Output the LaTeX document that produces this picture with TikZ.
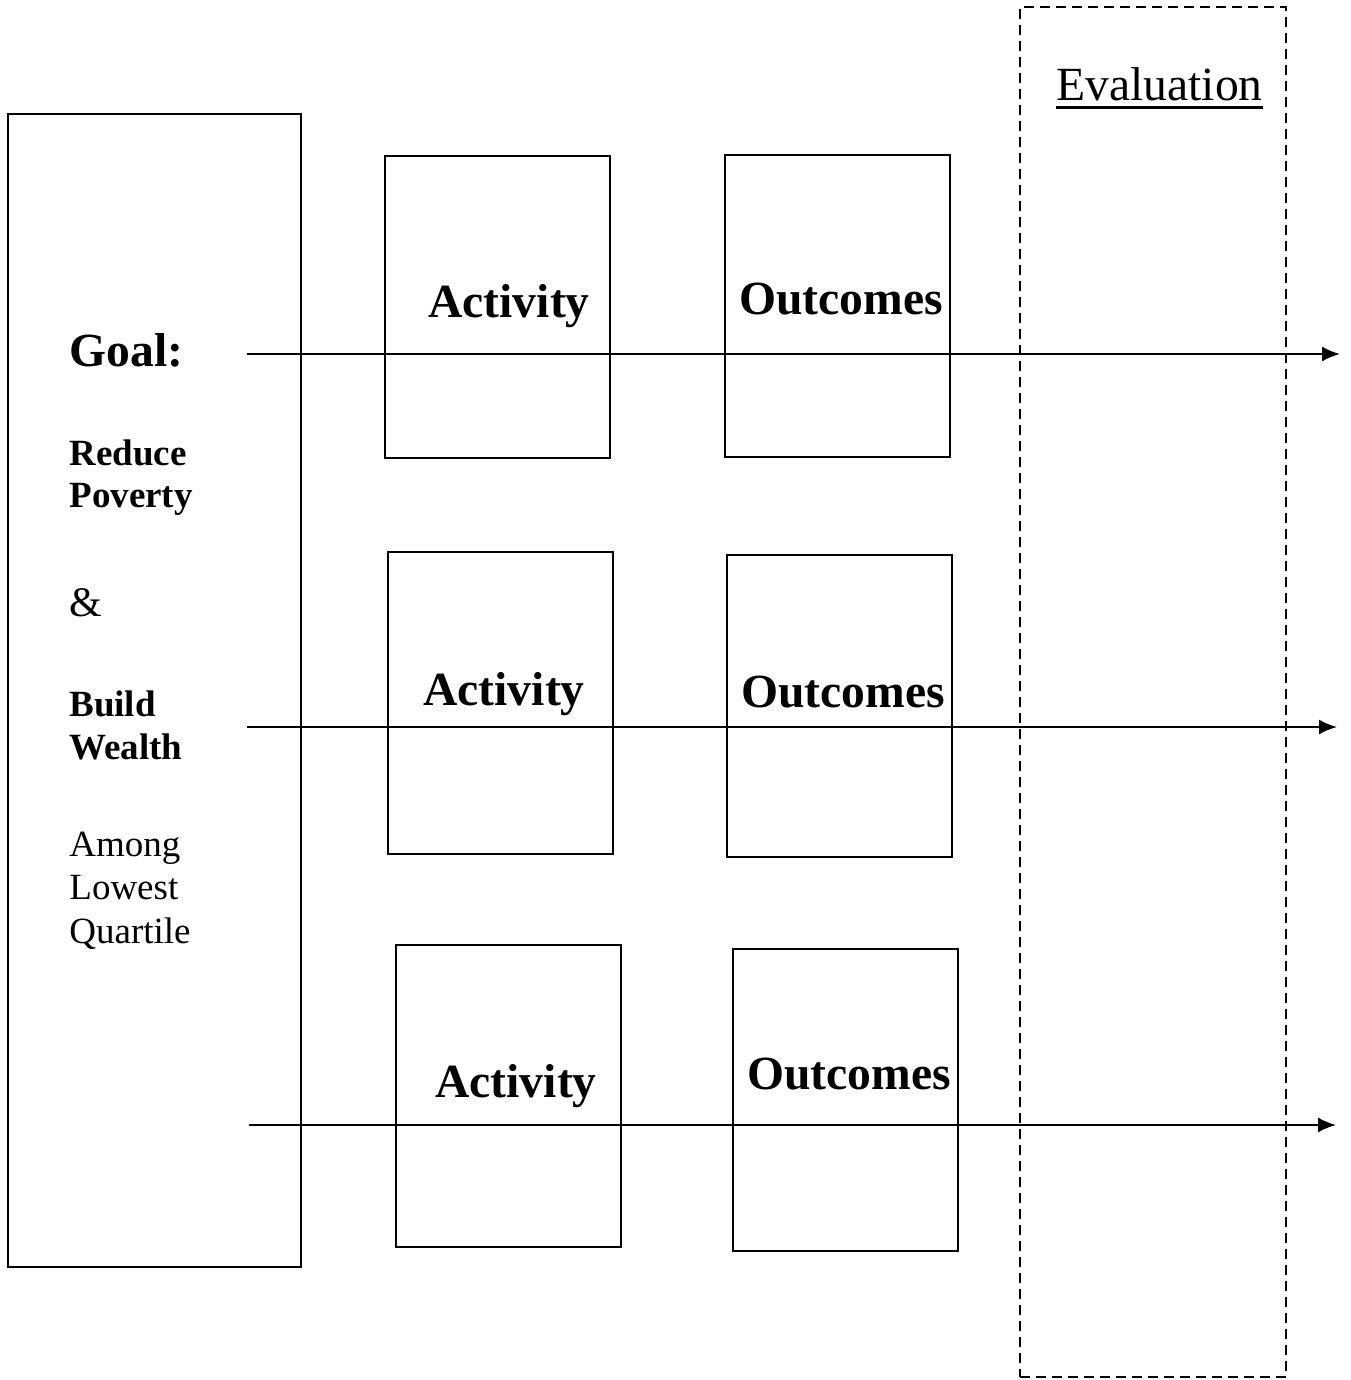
\documentclass[tikz,border=0pt]{standalone}
\usepackage{fontspec}
\setmainfont{Liberation Serif}
\usetikzlibrary{arrows.meta}
\begin{document}
\begin{tikzpicture}[x=0.5pt,y=-0.5pt,
  box/.style={draw,line width=1pt,minimum width=112.5pt,minimum height=151pt,inner sep=0pt,outer sep=0pt},
  big/.style={inner sep=0pt,anchor=base west,font=\fontsize{23.8}{28}\selectfont\bfseries},
  mid/.style={inner sep=0pt,anchor=base west,font=\fontsize{18.5}{21}\selectfont\bfseries},
  midr/.style={inner sep=0pt,anchor=base west,font=\fontsize{18.5}{21}\selectfont},
  flow/.style={line width=1pt,-{Latex[length=9pt,width=7.5pt]}}]
\useasboundingbox (0,0) rectangle (1350,1380);
% goal box
\node[draw,line width=1pt,minimum width=146.5pt,minimum height=576.5pt,inner sep=0pt,outer sep=0pt] (goal) at (154.5,690.5) {};
% evaluation box
\node[draw,dashed,dash pattern=on 5pt off 3pt,line width=1pt,minimum width=133pt,minimum height=685pt,inner sep=0pt,outer sep=0pt] (evalbox) at (1153,692) {};
\node[inner sep=0pt,anchor=base west,font=\fontsize{23.8}{28}\selectfont] (ev) at (1056,101) {Evaluation};
\draw[line width=1.5pt] ([yshift=-3.5pt]ev.base west) -- ([yshift=-3.5pt]ev.base east);
% activity / outcome boxes
\node[box] (a1) at (497.5,307) {};
\node[box] (a2) at (500.5,703) {};
\node[box] (a3) at (508.5,1096) {};
\node[box] (o1) at (837.5,306) {};
\node[box] (o2) at (839.5,706) {};
\node[box] (o3) at (845.5,1100) {};
\node[big] (ta1) at (428,317) {Activity};
\node[big] (ta2) at (423,705) {Activity};
\node[big] (ta3) at (435,1097) {Activity};
\node[big] (to1) at (739,314) {Outcomes};
\node[big] (to2) at (741,707) {Outcomes};
\node[big] (to3) at (747,1089) {Outcomes};
% goal text
\node[big] (g) at (69,366) {Goal:};
\node[mid] (r1) at (69,465) {Reduce};
\node[mid] (r2) at (69,507) {Poverty};
\node[inner sep=0pt,anchor=base west,font=\fontsize{21}{25}\selectfont] (amp) at (69,616) {\&};
\node[mid] (b1) at (69,716) {Build};
\node[mid] (b2) at (69,759) {Wealth};
\node[midr] (m1) at (69,856) {Among};
\node[midr] (m2) at (69,899) {Lowest};
\node[midr] (m3) at (69,943) {Quartile};
% arrows
\coordinate (s1) at (247,354);
\coordinate (e1) at (1340,354);
\coordinate (s2) at (247,727);
\coordinate (e2) at (1337,727);
\coordinate (s3) at (249,1125);
\coordinate (e3) at (1336,1125);
\draw[flow] (s1) -- (e1);
\draw[flow] (s2) -- (e2);
\draw[flow] (s3) -- (e3);
\end{tikzpicture}
\end{document}
